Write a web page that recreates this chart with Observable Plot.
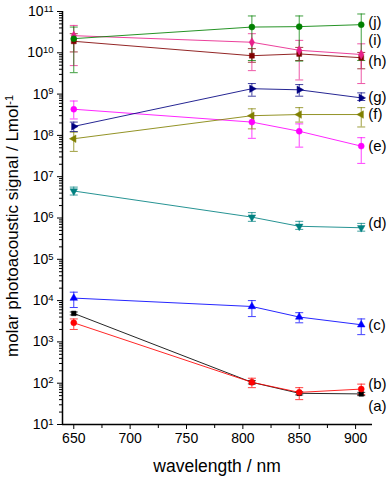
<!DOCTYPE html>
<html><head><meta charset="utf-8">
<script src="https://cdn.jsdelivr.net/npm/d3@7"></script>
<script src="https://cdn.jsdelivr.net/npm/@observablehq/plot@0.6"></script>
<style>
body{margin:0;background:#fff}
svg{font-family:Arial,"Liberation Sans",sans-serif}
</style>
</head><body><div id="chart"></div>
<script>
// ---- data ----
const wavelengths = [650, 808, 850, 905];
const seriesIds = ["a","b","c","d","e","f","g","h","i","j"];

const a_val = [4900, 105, 57, 55];
const a_lo  = [4500, 96, 52, 50];
const a_hi  = [5300, 115, 62, 60];

const b_val = [2900, 105, 60, 72];
const b_lo  = [2000, 78, 40, 53];
const b_hi  = [3600, 132, 78, 95];

const c_val = [11500, 7200, 4000, 2600];
const c_lo  = [6800, 4100, 2900, 1500];
const c_hi  = [16000, 10000, 5100, 3600];

const d_val = [4.5e6, 1.05e6, 6.3e5, 5.8e5];
const d_lo  = [3.6e6, 8.3e5, 5.3e5, 4.8e5];
const d_hi  = [5.6e6, 1.35e6, 8.3e5, 7.4e5];

const e_val = [4.3e8, 2.1e8, 1.26e8, 5.5e7];
const e_lo  = [2.5e8, 8.5e7, 5.2e7, 2.1e7];
const e_hi  = [6.8e8, 3.0e8, 1.9e8, 8.8e7];

const f_val = [8.3e7, 3.0e8, 3.2e8, 3.2e8];
const f_lo  = [4.1e7, 1.44e8, 2.1e8, 1.6e8];
const f_hi  = [1.2e8, 4.4e8, 4.7e8, 4.7e8];

const g_val = [1.65e8, 1.35e9, 1.27e9, 8.1e8];
const g_lo  = [1.24e8, 8.9e8, 8.9e8, 7.0e8];
const g_hi  = [2.1e8, 1.8e9, 1.7e9, 1.07e9];

const h_val = [1.9e10, 8.5e9, 9.4e9, 7.6e9];
const h_lo  = [1.05e10, 5.9e9, 6.5e9, 4.1e9];
const h_hi  = [2.9e10, 1.26e10, 1.35e10, 1.02e10];

const i_val = [2.6e10, 1.8e10, 1.15e10, 9.1e9];
const i_lo  = [4.9e9, 3.7e9, 2.2e9, 1.8e9];
const i_hi  = [4.6e10, 2.9e10, 2.0e10, 1.65e10];

const j_val = [2.2e10, 4.2e10, 4.3e10, 4.8e10];
const j_lo  = [3.3e9, 6.5e9, 6.3e9, 6.5e9];
const j_hi  = [4.2e10, 7.8e10, 7.8e10, 8.7e10];

const xTicks = [650, 700, 750, 800, 850, 900];
const xMinorTicks = [675, 725, 775, 825, 875];
const yDecades = [1e1,1e2,1e3,1e4,1e5,1e6,1e7,1e8,1e9,1e10,1e11];
const yLabel = "molar photoacoustic signal / Lmol";
const yLabelSup = "-1";
const xLabel = "wavelength / nm";

// ---- styles ----
const colors = {a:"#000000", b:"#ff0000", c:"#0000ff", d:"#008080", e:"#ff00ff",
                f:"#808000", g:"#000080", h:"#800000", i:"#e8208a", j:"#008000"};
const tri = (dir) => ({draw(ctx, size){
  const s = Math.sqrt(size*4/Math.sqrt(3)), hh = s*Math.sqrt(3)/2;
  const pts = [[-s/2,-hh/3],[s/2,-hh/3],[0,2*hh/3]]; // pointing down
  const rot = {down:0, up:Math.PI, left:Math.PI/2, right:-Math.PI/2}[dir];
  pts.forEach(([x,y],k)=>{const X=x*Math.cos(rot)-y*Math.sin(rot), Y=x*Math.sin(rot)+y*Math.cos(rot);
    k?ctx.lineTo(X,Y):ctx.moveTo(X,Y);});
  ctx.closePath();
}});
const symbols = {a:"square", b:"circle", c:tri("up"), d:tri("down"), e:"circle",
                 f:tri("left"), g:tri("right"), h:"square", i:"diamond", j:"circle"};
const symR = {a:2.6, b:3, c:2.8, d:2.8, e:3, f:2.8, g:2.8, h:2.8, i:2.8, j:3};
const labelDy = {a:12, b:-5, c:0, d:-5, e:0, f:0, g:-1, h:3, i:-14, j:-2};
const cap = {draw(ctx){ ctx.moveTo(-4,0); ctx.lineTo(4,0); }};

const store = {a:[a_val,a_lo,a_hi], b:[b_val,b_lo,b_hi], c:[c_val,c_lo,c_hi], d:[d_val,d_lo,d_hi],
  e:[e_val,e_lo,e_hi], f:[f_val,f_lo,f_hi], g:[g_val,g_lo,g_hi], h:[h_val,h_lo,h_hi],
  i:[i_val,i_lo,i_hi], j:[j_val,j_lo,j_hi]};

const rows = [];
for (const id of seriesIds) {
  const [v, lo, hi] = store[id];
  wavelengths.forEach((w,k) => rows.push({id, w, v:v[k], lo:lo[k], hi:hi[k]}));
}
const yMinor = [];
for (const d of yDecades.slice(0,-1)) for (let m=2;m<=9;m++) yMinor.push(d*m);

const marks = [];
// error bars
for (const id of seriesIds) {
  const data = rows.filter(r => r.id===id);
  marks.push(Plot.ruleX(data, {x:"w", y1:"lo", y2:"hi", stroke:colors[id], strokeWidth:1, strokeOpacity:0.75}));
  marks.push(Plot.dot(data, {x:"w", y:"lo", symbol:cap, stroke:colors[id], fill:"none", strokeWidth:1, strokeOpacity:0.75}));
  marks.push(Plot.dot(data, {x:"w", y:"hi", symbol:cap, stroke:colors[id], fill:"none", strokeWidth:1, strokeOpacity:0.75}));
}
// lines
for (const id of seriesIds) {
  const data = rows.filter(r => r.id===id);
  marks.push(Plot.line(data, {x:"w", y:"v", stroke:colors[id], strokeWidth:1, strokeOpacity:0.85}));
}
// markers
for (const id of seriesIds) {
  const data = rows.filter(r => r.id===id);
  marks.push(Plot.dot(data, {x:"w", y:"v", symbol:symbols[id], r:symR[id], fill:colors[id], stroke:colors[id], strokeWidth:0.5}));
}
// series labels
for (const id of seriesIds) {
  const last = rows.filter(r => r.id===id).slice(-1);
  marks.push(Plot.text(last, {x:"w", y:"v", text:() => `(${id})`, textAnchor:"start", dx:7, dy:labelDy[id], fontSize:15, fill:"#000"}));
}
// axes
marks.push(
  Plot.axisX({ticks:xTicks, tickSize:5, tickPadding:4, fontSize:14, label:null, color:"#000"}),
  Plot.axisX({ticks:xMinorTicks, tickSize:4, tickFormat:() => "", label:null}),
  Plot.axisY({ticks:yDecades, tickSize:5, tickPadding:4, fontSize:14, label:null,
     tickFormat: d => "10^" + Math.round(Math.log10(d))}),
  Plot.axisY({ticks:yMinor, tickSize:3, tickFormat:() => "", label:null}),
  Plot.ruleX([640], {stroke:"#000", strokeWidth:1.5}),
  Plot.ruleY([10], {stroke:"#000", strokeWidth:1.5})
);

const chart = Plot.plot({
  width:389, height:477,
  marginLeft:62, marginRight:17, marginTop:11, marginBottom:53,
  style:{fontFamily:"Arial, 'Liberation Sans', sans-serif", color:"#000", background:"#fff"},
  x:{domain:[640,915]},
  y:{type:"log", domain:[10,1e11]},
  marks
});
document.getElementById("chart").appendChild(chart);

// superscripts on y tick labels
const svg = d3.select(chart);
svg.selectAll('g[aria-label="y-axis tick label"] text').each(function(){
  const t = d3.select(this); const s = t.text();
  if (!s.includes("^")) return;
  const [base, exp] = s.split("^");
  t.text("");
  t.append("tspan").text(base);
  t.append("tspan").attr("dy","-0.45em").attr("font-size","9.5px").text(exp);
});
// axis titles
const yl = svg.append("text").attr("transform","translate(18,226) rotate(-90)")
  .attr("text-anchor","middle").attr("font-size","17px").attr("fill","#000");
yl.append("tspan").text(yLabel);
yl.append("tspan").attr("dy","-0.5em").attr("font-size","11px").text(yLabelSup);
svg.append("text").attr("x",217).attr("y",472).attr("text-anchor","middle")
  .attr("font-size","17.5px").attr("fill","#000").text(xLabel);
</script>
</body></html>
